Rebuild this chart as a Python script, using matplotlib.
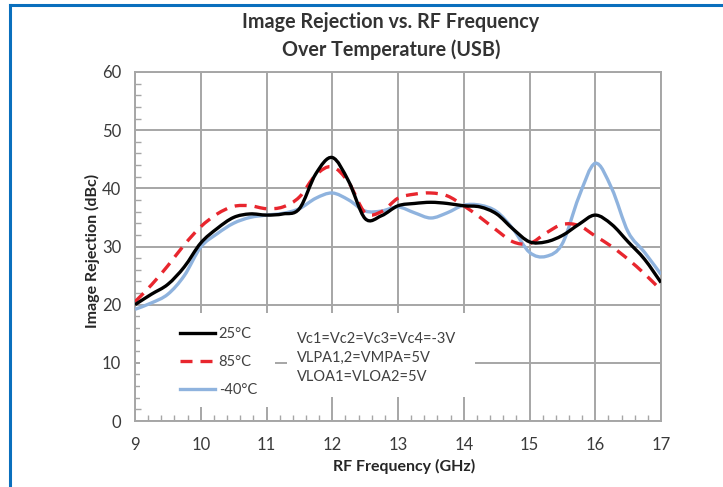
import matplotlib
matplotlib.use("Agg")
import matplotlib.pyplot as plt
import numpy as np
from matplotlib.path import Path
from matplotlib.patches import PathPatch, Rectangle
from matplotlib.lines import Line2D
from matplotlib.ticker import MultipleLocator

plt.rcParams['font.family'] = ['Lato', 'DejaVu Sans']

# ---------------- data ----------------
freq_ghz = [9.0, 9.25, 9.5, 9.75, 10.0, 10.25, 10.5, 10.75, 11.0, 11.25, 11.5, 11.75,
            12.0, 12.25, 12.5, 12.75, 13.0, 13.25, 13.5, 13.75, 14.0, 14.25, 14.5,
            14.75, 15.0, 15.25, 15.5, 15.75, 16.0, 16.25, 16.5, 16.75, 17.0]

ir_25c = [20.0, 21.8, 23.5, 26.5, 30.6, 33.1, 35.0, 35.6, 35.4, 35.6, 36.5, 42.5,
          45.3, 41.2, 34.8, 35.3, 37.0, 37.4, 37.6, 37.4, 37.0, 36.8, 35.6,
          33.0, 30.8, 30.8, 31.9, 33.8, 35.4, 33.8, 30.8, 27.8, 23.8]

ir_85c = [20.5, 23.4, 26.7, 30.3, 33.4, 35.6, 36.9, 37.0, 36.5, 36.8, 38.5, 42.3,
          43.7, 41.0, 35.8, 36.0, 38.3, 39.0, 39.2, 38.7, 37.0, 35.0, 32.8,
          30.8, 30.5, 32.3, 33.8, 33.6, 31.8, 30.0, 27.8, 25.3, 22.5]

ir_m40c = [19.2, 20.3, 21.8, 25.0, 29.9, 32.2, 34.0, 35.0, 35.4, 35.7, 36.5, 38.3,
           39.2, 38.0, 36.1, 36.1, 36.8, 35.8, 34.9, 35.8, 37.1, 37.1, 36.0,
           33.0, 29.0, 28.3, 30.5, 38.5, 44.3, 40.0, 32.5, 29.0, 25.2]

series_labels = ['25°C', '85°C', '-40°C']
x_ticks = [9, 10, 11, 12, 13, 14, 15, 16, 17]
y_ticks = [0, 10, 20, 30, 40, 50, 60]
title_lines = "Image Rejection vs. RF Frequency\nOver Temperature (USB)"
note_text = "Vc1=Vc2=Vc3=Vc4=-3V\nVLPA1,2=VMPA=5V\nVLOA1=VLOA2=5V"


def smooth_path(xs, ys):
    """Excel-like smoothed line: cubic Bezier segments through the data points."""
    p = np.column_stack([xs, ys]).astype(float)
    n = len(p)
    verts = [p[0]]
    codes = [Path.MOVETO]
    t = 1.0 / 6.0
    for i in range(n - 1):
        p0 = p[i - 1] if i > 0 else p[i]
        p1 = p[i]
        p2 = p[i + 1]
        p3 = p[i + 2] if i + 2 < n else p[i + 1]
        c1 = p1 + (p2 - p0) * t
        c2 = p2 - (p3 - p1) * t
        verts += [c1, c2, p2]
        codes += [Path.CURVE4] * 3
    return Path(verts, codes)


W, H = 723, 487
fig = plt.figure(figsize=(W / 100, H / 100), dpi=100)
ax = fig.add_axes([135 / W, 1 - 421 / H, (661 - 135) / W, (421 - 72) / H])

ax.set_xlim(9, 17)
ax.set_ylim(0, 60)
ax.set_xticks(x_ticks)
ax.set_yticks(y_ticks)
ax.xaxis.set_minor_locator(MultipleLocator(0.2))
ax.yaxis.set_minor_locator(MultipleLocator(2))

grid_col = '#a6a6a6'
ax.grid(True, which='major', color=grid_col, linewidth=1.4)
ax.set_axisbelow(True)
for s in ax.spines.values():
    s.set_color(grid_col)
    s.set_linewidth(1.4)
ax.tick_params(which='major', length=0, labelsize=12, labelcolor='#3a3a3a')
ax.tick_params(axis='y', which='major', pad=10)
ax.tick_params(axis='x', which='major', pad=11.5)
ax.tick_params(which='minor', direction='in', length=4, color=grid_col, width=1.0)
ax.tick_params(axis='y', which='minor', left=True, right=False)
ax.tick_params(axis='x', which='minor', bottom=True, top=False)

# white boxes behind legend and note (hide grid)
ax.add_patch(Rectangle((0.0095, 0.040), 0.257, 0.269, transform=ax.transAxes,
                       facecolor='white', edgecolor='none', zorder=1.5))
ax.add_patch(Rectangle((0.289, 0.069), 0.357, 0.240, transform=ax.transAxes,
                       facecolor='white', edgecolor='none', zorder=1.5))

styles = [
    dict(color='black', linestyle='-'),
    dict(color='#e8262e', linestyle=(0, (3.6, 2.4))),
    dict(color='#8fb3de', linestyle='-'),
]
all_series = [ir_25c, ir_85c, ir_m40c]
zorders = [3.5, 3.3, 3.1]
for idx in range(3):
    st = styles[idx]
    patch = PathPatch(smooth_path(freq_ghz, all_series[idx]), facecolor='none',
                      edgecolor=st['color'], linewidth=2.4, linestyle=st['linestyle'],
                      zorder=zorders[idx], capstyle='butt')
    ax.add_patch(patch)

handles = []
for idx in range(3):
    st = styles[idx]
    handles.append(Line2D([], [], color=st['color'], linestyle=st['linestyle'],
                          linewidth=2.4))

leg = ax.legend(handles, series_labels, loc='center left',
                bbox_to_anchor=((180 - 135) / 526, (421 - 362) / 349),
                frameon=False, fontsize=10.5, handlelength=2.4, handletextpad=0.25,
                labelspacing=0.95, borderpad=0, borderaxespad=0)
for t in leg.get_texts():
    t.set_color('#404040')

ax.text((297 - 135) / 526, (421 - 358) / 349, note_text, transform=ax.transAxes,
        fontsize=10.5, color='#404040', va='center', ha='left', linespacing=1.45,
        zorder=4)

fig.text(391 / W, 1 - 36 / H, title_lines, ha='center', va='center', fontsize=14.2,
         fontweight='bold', color='#333333', linespacing=1.45)
fig.text(404 / W, 1 - 466 / H, 'RF Frequency (GHz)', ha='center', va='center',
         fontsize=11.5, fontweight='bold', color='#262626')
fig.text(92 / W, 1 - 251 / H, 'Image Rejection (dBc)', ha='center', va='center',
         fontsize=11.5, fontweight='bold', color='#262626', rotation=90)

# blue outer frame (left and top edges)
frame_col = '#0a6fbd'
fig.add_artist(Line2D([10 / W, 10 / W], [0, 1 - 5 / H], transform=fig.transFigure,
                      color=frame_col, linewidth=2.2))
fig.add_artist(Line2D([10 / W, 1], [1 - 5 / H, 1 - 5 / H], transform=fig.transFigure,
                      color=frame_col, linewidth=2.2))

fig.savefig('out.png', dpi=100, facecolor='white')
